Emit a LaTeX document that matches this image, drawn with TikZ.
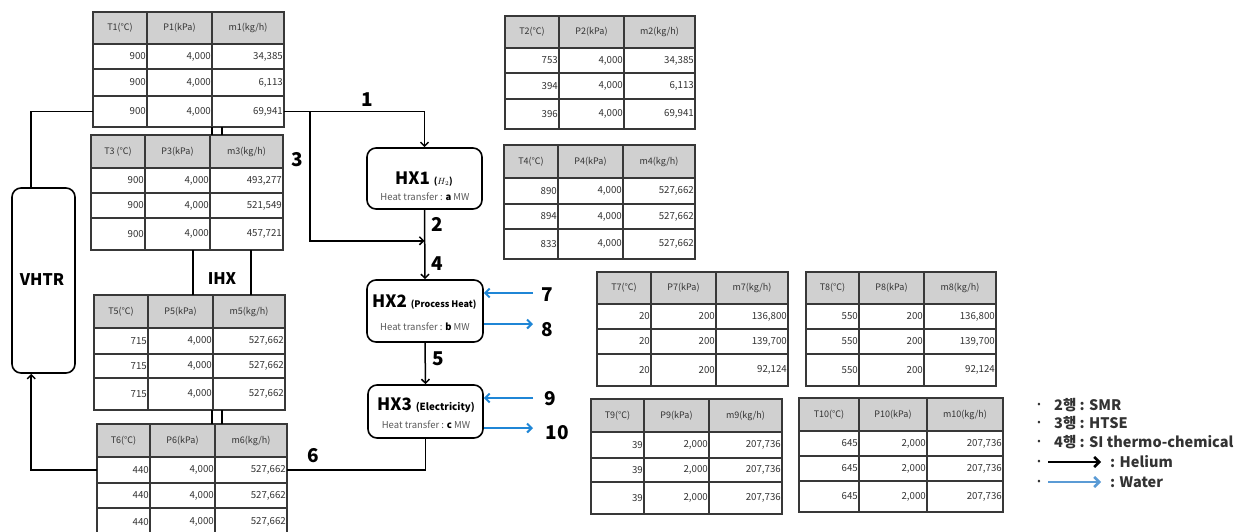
\documentclass[tikz,border=0pt]{standalone}
\usepackage{fontspec}
\setmainfont{Noto Sans CJK KR}
\usetikzlibrary{arrows.meta,calc}
\definecolor{hdrgray}{HTML}{D0D0D0}
\definecolor{lineg}{HTML}{383838}
\definecolor{wblue}{HTML}{1F86D6}
\definecolor{lblue}{HTML}{5B9BD5}
\definecolor{txtgray}{HTML}{333333}
\definecolor{htgray}{HTML}{595959}
\def\tbRows#1/#2/#3/#4\relax{\def\tbYa{#1}\def\tbYb{#2}\def\tbYc{#3}\def\tbYd{#4}}
\def\tbHead#1/#2/#3\relax{\def\tbHa{#1}\def\tbHb{#2}\def\tbHc{#3}}
\def\tbVals#1/#2/#3/#4/#5/#6/#7/#8/#9\relax{\def\tbVa{#1}\def\tbVb{#2}\def\tbVc{#3}\def\tbVd{#4}\def\tbVe{#5}\def\tbVf{#6}\def\tbVg{#7}\def\tbVh{#8}\def\tbVi{#9}}
% #1 name #2 x0 #3 x1 #4 x2 #5 x3 #6 y0 #7 y1/y2/y3/y4 #8 headers #9 values
\newcommand\mytable[9]{%
  \tbRows#7\relax\tbHead#8\relax\tbVals#9\relax
  \fill[hdrgray] (#2,#6) rectangle (#5,\tbYa);
  \node[rowbox, minimum width={(#5-#2)*1pt}, minimum height={(\tbYd-#6)*1pt}] (#1) at (#2,#6) {};
  \node[rowbox, minimum width={(#5-#2)*1pt}, minimum height={(\tbYb-\tbYa)*1pt}] (#1-1) at (#2,\tbYa) {};
  \node[rowbox, minimum width={(#5-#2)*1pt}, minimum height={(\tbYc-\tbYb)*1pt}] (#1-2) at (#2,\tbYb) {};
  \node[rowbox, minimum width={(#5-#2)*1pt}, minimum height={(\tbYd-\tbYc)*1pt}] (#1-3) at (#2,\tbYc) {};
  \draw[gridln] (#3,#6) -- (#3,\tbYd) (#4,#6) -- (#4,\tbYd)
     (#2,\tbYa) -- (#5,\tbYa) (#2,\tbYb) -- (#5,\tbYb) (#2,\tbYc) -- (#5,\tbYc);
  \draw[outerln] (#2,#6) rectangle (#5,\tbYd);
  \node[hdrtxt] (#1-ha) at ({(#2+#3)/2},{(#6+\tbYa)/2}) {\tbHa};
  \node[hdrtxt] (#1-hb) at ({(#3+#4)/2},{(#6+\tbYa)/2}) {\tbHb};
  \node[hdrtxt] (#1-hc) at ({(#4+#5)/2},{(#6+\tbYa)/2}) {\tbHc};
  \node[valtxt] (#1-a) at (#3-1,{(\tbYa+\tbYb)/2}) {\tbVa};
  \node[valtxt] (#1-b) at (#4-1,{(\tbYa+\tbYb)/2}) {\tbVb};
  \node[valtxt] (#1-c) at (#5-1,{(\tbYa+\tbYb)/2}) {\tbVc};
  \node[valtxt] (#1-d) at (#3-1,{(\tbYb+\tbYc)/2}) {\tbVd};
  \node[valtxt] (#1-e) at (#4-1,{(\tbYb+\tbYc)/2}) {\tbVe};
  \node[valtxt] (#1-f) at (#5-1,{(\tbYb+\tbYc)/2}) {\tbVf};
  \node[valtxt] (#1-g) at (#3-1,{(\tbYc+\tbYd)/2}) {\tbVg};
  \node[valtxt] (#1-h) at (#4-1,{(\tbYc+\tbYd)/2}) {\tbVh};
  \node[valtxt] (#1-i) at (#5-1,{(\tbYc+\tbYd)/2}) {\tbVi};
}
\begin{document}
\begin{tikzpicture}[x=1pt,y=-1pt,
  rowbox/.style={inner sep=0pt, outer sep=0pt, anchor=north west},
  gridln/.style={draw=lineg, line width=1.3pt},
  outerln/.style={draw=lineg, line width=1.8pt},
  hdrtxt/.style={inner sep=0pt, text=txtgray, font=\fontsize{9}{10}\selectfont},
  valtxt/.style={inner sep=0pt, anchor=east, text=txtgray, font=\fontsize{9.7}{11}\selectfont},
  numlbl/.style={inner sep=0pt, font=\fontsize{19}{22}\bfseries\selectfont},
  bigtxt/.style={inner sep=0pt, font=\fontsize{16}{19}\bfseries\selectfont},
  hxtitle/.style={inner sep=0pt, font=\fontsize{17}{20}\bfseries\selectfont},
  hxsub/.style={inner sep=0pt, text=htgray, font=\fontsize{9.5}{11}\selectfont},
  hxbox/.style={draw=black, line width=1.6pt, rounded corners=9pt, inner sep=0pt},
  heline/.style={draw=black, line width=1.5pt},
  harrow/.style={heline, -{Straight Barb[length=4pt,width=8pt]}},
  warrow/.style={draw=wblue, line width=2pt, -{Straight Barb[length=4.5pt,width=9pt]}},
  lgd/.style={inner sep=0pt, anchor=west, font=\fontsize{14.5}{17}\bfseries\selectfont, text=txtgray},
  lgdot/.style={inner sep=0pt, font=\fontsize{10}{12}\selectfont, text=txtgray}]
\useasboundingbox (0,0) rectangle (1259,531);
\fill[white] (0,0) rectangle (1259,531);

% tables
\mytable{t1}{93}{147}{212}{284}{12}{44/69/96/127}{T1(℃)/P1(kPa)/m1(kg/h)}{900/4,000/34,385/900/4,000/6,113/900/4,000/69,941}
\mytable{t3}{91}{145}{210}{283}{135}{168/193/218/250}{T3 (℃)/P3(kPa)/m3(kg/h)}{900/4,000/493,277/900/4,000/521,549/900/4,000/457,721}
\mytable{t5}{94}{148}{213}{285}{295}{328/354/378/410}{T5(℃)/P5(kPa)/m5(kg/h)}{715/4,000/527,662/715/4,000/527,662/715/4,000/527,662}
\mytable{t6}{97}{150}{215}{287}{424}{457/483/508/536}{T6(℃)/P6(kPa)/m6(kg/h)}{440/4,000/527,662/440/4,000/527,662/440/4,000/527,662}
\mytable{t2}{505}{559}{624}{695}{16}{48/73/99/129}{T2(℃)/P2(kPa)/m2(kg/h)}{753/4,000/34,385/394/4,000/6,113/396/4,000/69,941}
\mytable{t4}{504}{558}{623}{695}{145}{178/204/229/259}{T4(℃)/P4(kPa)/m4(kg/h)}{890/4,000/527,662/894/4,000/527,662/833/4,000/527,662}
\mytable{t7}{597}{651}{716}{788}{272}{304/329/354/386}{T7(℃)/P7(kPa)/m7(kg/h)}{20/200/136,800/20/200/139,700/20/200/92,124}
\mytable{t8}{806}{859}{924}{996}{272}{304/329/354/386}{T8(℃)/P8(kPa)/m8(kg/h)}{550/200/136,800/550/200/139,700/550/200/92,124}
\mytable{t9}{591}{644}{709}{782}{399}{432/458/482/514}{T9(℃)/P9(kPa)/m9(kg/h)}{39/2,000/207,736/39/2,000/207,736/39/2,000/207,736}
\mytable{t10}{799}{859}{927}{1003}{398}{431/456/481/512}{T10(℃)/P10(kPa)/m10(kg/h)}{645/2,000/207,736/645/2,000/207,736/645/2,000/207,736}

% components
\node[hxbox, minimum width=63pt, minimum height=185pt] (vhtr) at (43.5,280.5) {};
\node[bigtxt] (vhtrt) at (42,280) {VHTR};
\node[bigtxt] (ihxt) at (222,279) {IHX};
\node[hxbox, minimum width=115pt, minimum height=61pt] (hx1) at (424.5,178.5) {};
\node[hxbox, minimum width=116pt, minimum height=62pt] (hx2) at (425,311) {};
\node[hxbox, minimum width=115pt, minimum height=53pt] (hx3) at (425.5,411.5) {};
\node[hxtitle] (hx1t) at (424,179) {HX1 {\fontsize{9}{10}\selectfont($H_2$)}};
\node[hxsub] (hx1s) at (425,197) {Heat transfer : \textbf{\textcolor{black}{a}} MW};
\node[hxtitle, anchor=west] (hx2t) at (372,302) {HX2 {\fontsize{9}{10}\bfseries\selectfont(Process Heat)}};
\node[hxsub] (hx2s) at (425,327) {Heat transfer : \textbf{\textcolor{black}{b}} MW};
\node[hxtitle, anchor=west] (hx3t) at (377,405) {HX3 {\fontsize{9.8}{11}\bfseries\selectfont(Electricity)}};
\node[hxsub] (hx3s) at (426,425) {Heat transfer : \textbf{\textcolor{black}{c}} MW};

% stream numbers
\node[numlbl] (n1) at (367,100) {1};
\node[numlbl] (n2) at (437,224) {2};
\node[numlbl] (n3) at (297,160) {3};
\node[numlbl] (n4) at (437,264) {4};
\node[numlbl] (n5) at (438,359) {5};
\node[numlbl] (n6) at (313,456) {6};
\node[numlbl] (n7) at (547,295) {7};
\node[numlbl] (n8) at (547,330) {8};
\node[numlbl] (n9) at (550,399) {9};
\node[numlbl] (n10) at (557,433) {10};

% helium connectors
\coordinate (split) at (310,0);
\coordinate (merge) at ($(hx1.south)+(0,31)$);
\draw[heline] (t1-3.west) -| ($(vhtr.north west)+(20,0)$);
\draw[harrow] (t6-1.west) -| ($(vhtr.south west)+(20,0)$);
\draw[harrow] (t1-3.east) -| (hx1.north);
\draw[harrow] (t1-3.east -| split) |- (merge);
\draw[harrow] (hx1.south) -- (hx2.north);
\draw[harrow] (hx2.south) -- (hx3.north);
\draw[heline] (hx3.south) |- (t6-1.east);
% IHX links
\draw[heline] (t3.south -| 193,0) -- (t5.north -| 193,0);
\draw[heline] (t3.south -| 251,0) -- (t5.north -| 251,0);
\draw[heline] (t1.south -| 212,0) -- (t3.north -| 212,0);
\draw[heline] (t1.south -| 222,0) -- (t3.north -| 222,0);
\draw[heline] (t5.south -| 212,0) -- (t6.north -| 212,0);
\draw[heline] (t5.south -| 222,0) -- (t6.north -| 222,0);

% water connectors
\coordinate (w7) at (533,293);
\coordinate (w8) at (533,324);
\coordinate (w9) at (533,398);
\coordinate (w10) at (533,428);
\draw[warrow] (w7) -- (hx2.east |- w7);
\draw[warrow] (hx2.east |- w8) -- (w8);
\draw[warrow] (w9) -- (hx3.east |- w9);
\draw[warrow] (hx3.east |- w10) -- (w10);

% legend
\node[lgdot] (b1) at (1039,405) {•};
\node[lgdot] (b2) at (1039,423) {•};
\node[lgdot] (b3) at (1039,442) {•};
\node[lgdot] (b4) at (1039,462) {•};
\node[lgdot] (b5) at (1039,482) {•};
\node[lgd] (l1) at (1054,405) {2행 : SMR};
\node[lgd] (l2) at (1054,423) {3행 : HTSE};
\node[lgd] (l3) at (1054,442) {4행 : SI thermo-chemical};
\node[lgd] (l4) at (1110,462) {: Helium};
\node[lgd] (l5) at (1110,482) {: Water};
\coordinate (la1) at (1048,462);
\coordinate (la2) at (1101,462);
\coordinate (lb1) at (1048,482);
\coordinate (lb2) at (1101,482);
\draw[line width=2.6pt, -{Straight Barb[length=5pt,width=10pt]}] (la1) -- (la2);
\draw[draw=lblue, line width=2.6pt, -{Straight Barb[length=5pt,width=10pt]}] (lb1) -- (lb2);
\end{tikzpicture}
\end{document}
